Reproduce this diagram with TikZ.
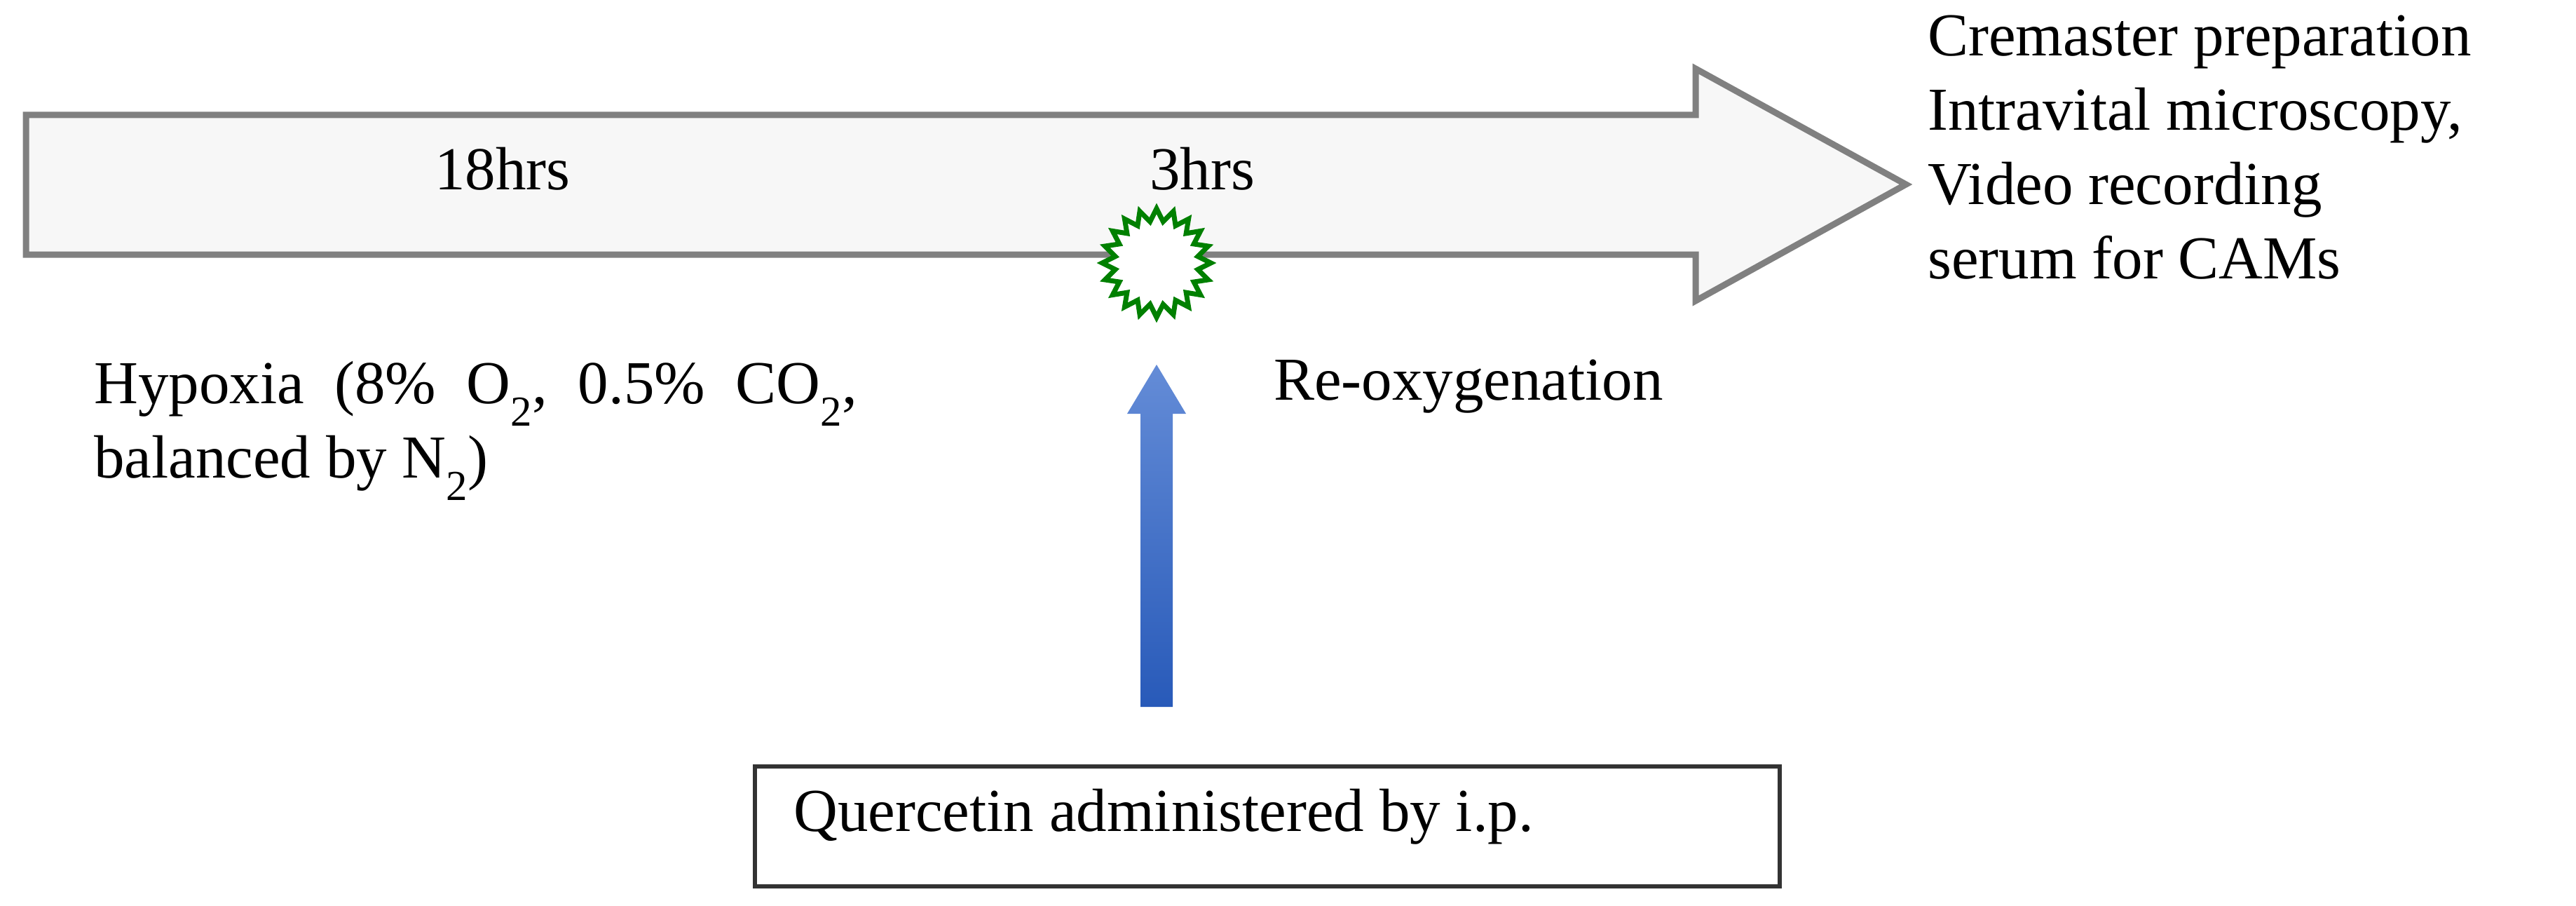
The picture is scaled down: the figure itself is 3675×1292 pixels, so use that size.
\documentclass[tikz,border=0pt]{standalone}
\usepackage{fontspec}
\setmainfont{Liberation Serif}
\usetikzlibrary{shapes.geometric}
\begin{document}
\begin{tikzpicture}[x=1pt,y=-1pt,
  txt/.style={font=\fontsize{87}{106}\selectfont, anchor=west, inner sep=0pt, align=left}]
\useasboundingbox (0,0) rectangle (3675,1292);
% timeline arrow
\draw[line width=9pt, draw=black!50, fill=black!3, line join=miter]
  (37,164) -- (2419,164) -- (2419,98) -- (2719,263) -- (2419,429) -- (2419,363) -- (37,363) -- cycle;
\node[txt] (t18) at (620,241) {18hrs};
\node[txt] (t3) at (1640,241) {3hrs};
\node[star, star points=20, star point ratio=1.3, minimum size=155pt, inner sep=0pt,
  draw={rgb,255:red,0;green,128;blue,0}, line width=7pt, fill=white] (burst) at (1650,375) {};
\node[txt, anchor=north west] (right) at (2750,22) {Cremaster preparation\\Intravital microscopy,\\Video recording\\serum for CAMs};
\node[txt, anchor=north west] (hyp) at (134,515) {Hypoxia\ \ (8\%\ \ O\textsubscript{2},\ \ 0.5\%\ \ CO\textsubscript{2},\\balanced by N\textsubscript{2})};
\node[txt] (reox) at (1817,551) {Re-oxygenation};
% blue arrow
\shade[top color={rgb,255:red,100;green,140;blue,215}, bottom color={rgb,255:red,40;green,90;blue,185}]
  (1627,1008) -- (1627,590) -- (1608,590) -- (1650,520) -- (1692,590) -- (1673,590) -- (1673,1008) -- cycle;
\node[draw=black!80, line width=6pt, minimum width=1462pt, minimum height=171pt, anchor=north west] (box) at (1074,1090) {};
\node[txt] (q) at (1132,1165) {Quercetin administered by i.p.};
\end{tikzpicture}
\end{document}
